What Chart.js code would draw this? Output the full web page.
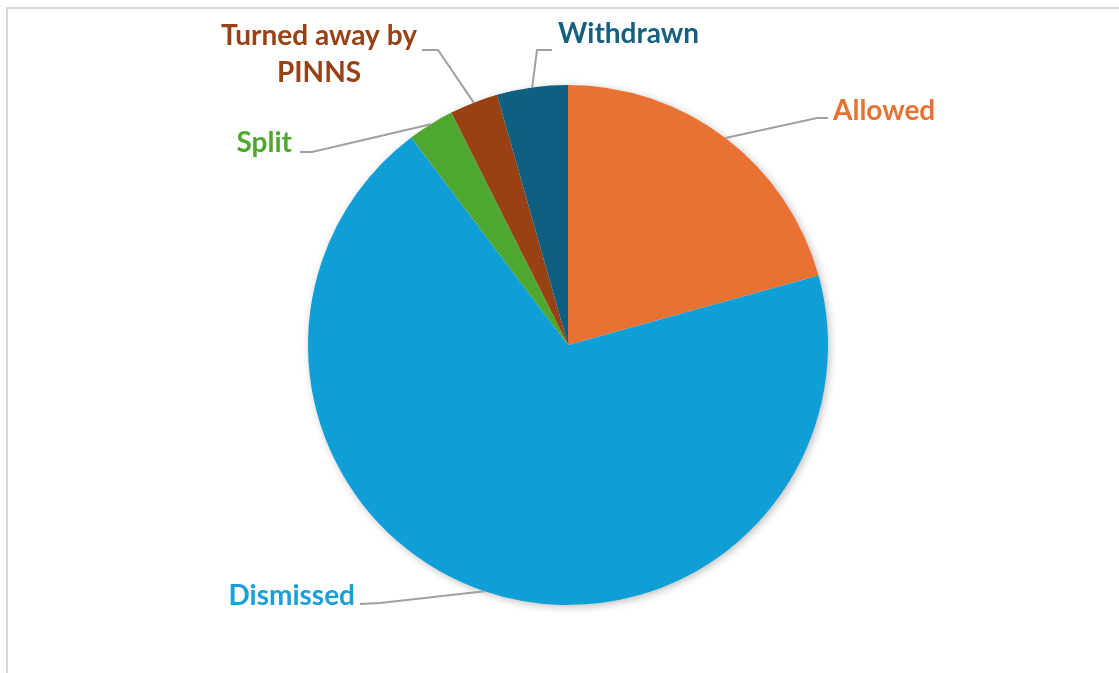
<!DOCTYPE html>
<html lang="en">
<head>
  <meta charset="UTF-8">
  <title>Appeal outcomes</title>
  <script src="https://cdn.jsdelivr.net/npm/chart.js"></script>
  <style>
    html, body {
      margin: 0;
      padding: 0;
      background: #ffffff;
      overflow: hidden;
    }
    .frame {
      position: absolute;
      left: 6px;
      top: 7px;
      width: 1113px;
      height: 666px;
      border-left: 2px solid #d9d9d9;
      border-top: 2px solid #d9d9d9;
    }
    .wrap {
      position: absolute;
      left: 0;
      top: 0;
      width: 1119px;
      height: 673px;
    }
  </style>
</head>
<body>
  <div class="frame"></div>
  <div class="wrap"><canvas id="pie"></canvas></div>

  <script>
    // data (percent of decisions)
    const categories = ['Allowed', 'Dismissed', 'Split', 'Turned away by PINNS', 'Withdrawn'];
    const shares = [20.7, 69.0, 2.9, 3.0, 4.4];
    const labelLines = [['Allowed'], ['Dismissed'], ['Split'], ['Turned away by', 'PINNS'], ['Withdrawn']];

    const sliceColors = ['#E97132', '#0F9ED5', '#4EA72E', '#974114', '#0E5F80'];
    const textColors = ['#E97132', '#1A9FD6', '#4EA72E', '#974114', '#155F80'];

    // where each label sits, relative to pie centre (style only)
    const labelStyle = [
      { x: 265, y: -225, align: 'left', path: [[249, -227], [260, -227]] },
      { x: -213, y: 260, align: 'right', path: [[-188, 258], [-208, 259]] },
      { x: -276, y: -193, align: 'right', path: [[-256, -193], [-268, -193]] },
      { x: -249, y: -300, align: 'center', path: [[-130, -295], [-146, -295]] },
      { x: -10, y: -302, align: 'left', path: [[-31, -295], [-16, -295]] }
    ];

    const shadowPlugin = {
      id: 'pieShadow',
      beforeDatasetsDraw(chart) {
        const arc = chart.getDatasetMeta(0).data[0];
        if (!arc) return;
        const ctx = chart.ctx;
        ctx.save();
        ctx.shadowColor = 'rgba(0,0,0,0.28)';
        ctx.shadowBlur = 9;
        ctx.shadowOffsetX = 2;
        ctx.shadowOffsetY = 2;
        ctx.fillStyle = '#ffffff';
        ctx.beginPath();
        ctx.arc(arc.x, arc.y, arc.outerRadius - 0.5, 0, Math.PI * 2);
        ctx.fill();
        ctx.restore();
      }
    };

    const labelPlugin = {
      id: 'outLabels',
      afterDatasetsDraw(chart) {
        const ctx = chart.ctx;
        const arcs = chart.getDatasetMeta(0).data;
        ctx.save();
        arcs.forEach((arc, i) => {
          const st = labelStyle[i];
          const cx = arc.x, cy = arc.y;
          const mid = (arc.startAngle + arc.endAngle) / 2;
          const r = arc.outerRadius;

          ctx.strokeStyle = '#a0a0a0';
          ctx.lineWidth = 2;
          ctx.beginPath();
          ctx.moveTo(cx + Math.cos(mid) * r, cy + Math.sin(mid) * r);
          st.path.forEach(p => ctx.lineTo(cx + p[0], cy + p[1]));
          ctx.stroke();

          ctx.fillStyle = textColors[i];
          ctx.font = 'bold 28px Lato';
          ctx.textAlign = st.align;
          ctx.textBaseline = 'alphabetic';
          labelLines[i].forEach((line, k) => {
            ctx.fillText(line, cx + st.x, cy + st.y + k * 37);
          });
        });
        ctx.restore();
      }
    };

    new Chart(document.getElementById('pie'), {
      type: 'pie',
      data: {
        labels: categories,
        datasets: [{
          data: shares,
          backgroundColor: sliceColors,
          borderWidth: 0
        }]
      },
      options: {
        responsive: true,
        maintainAspectRatio: false,
        animation: false,
        layout: {
          padding: { left: 308, right: 291, top: 85, bottom: 68 }
        },
        plugins: {
          legend: { display: false },
          tooltip: { enabled: false }
        }
      },
      plugins: [shadowPlugin, labelPlugin]
    });
  </script>
</body>
</html>
